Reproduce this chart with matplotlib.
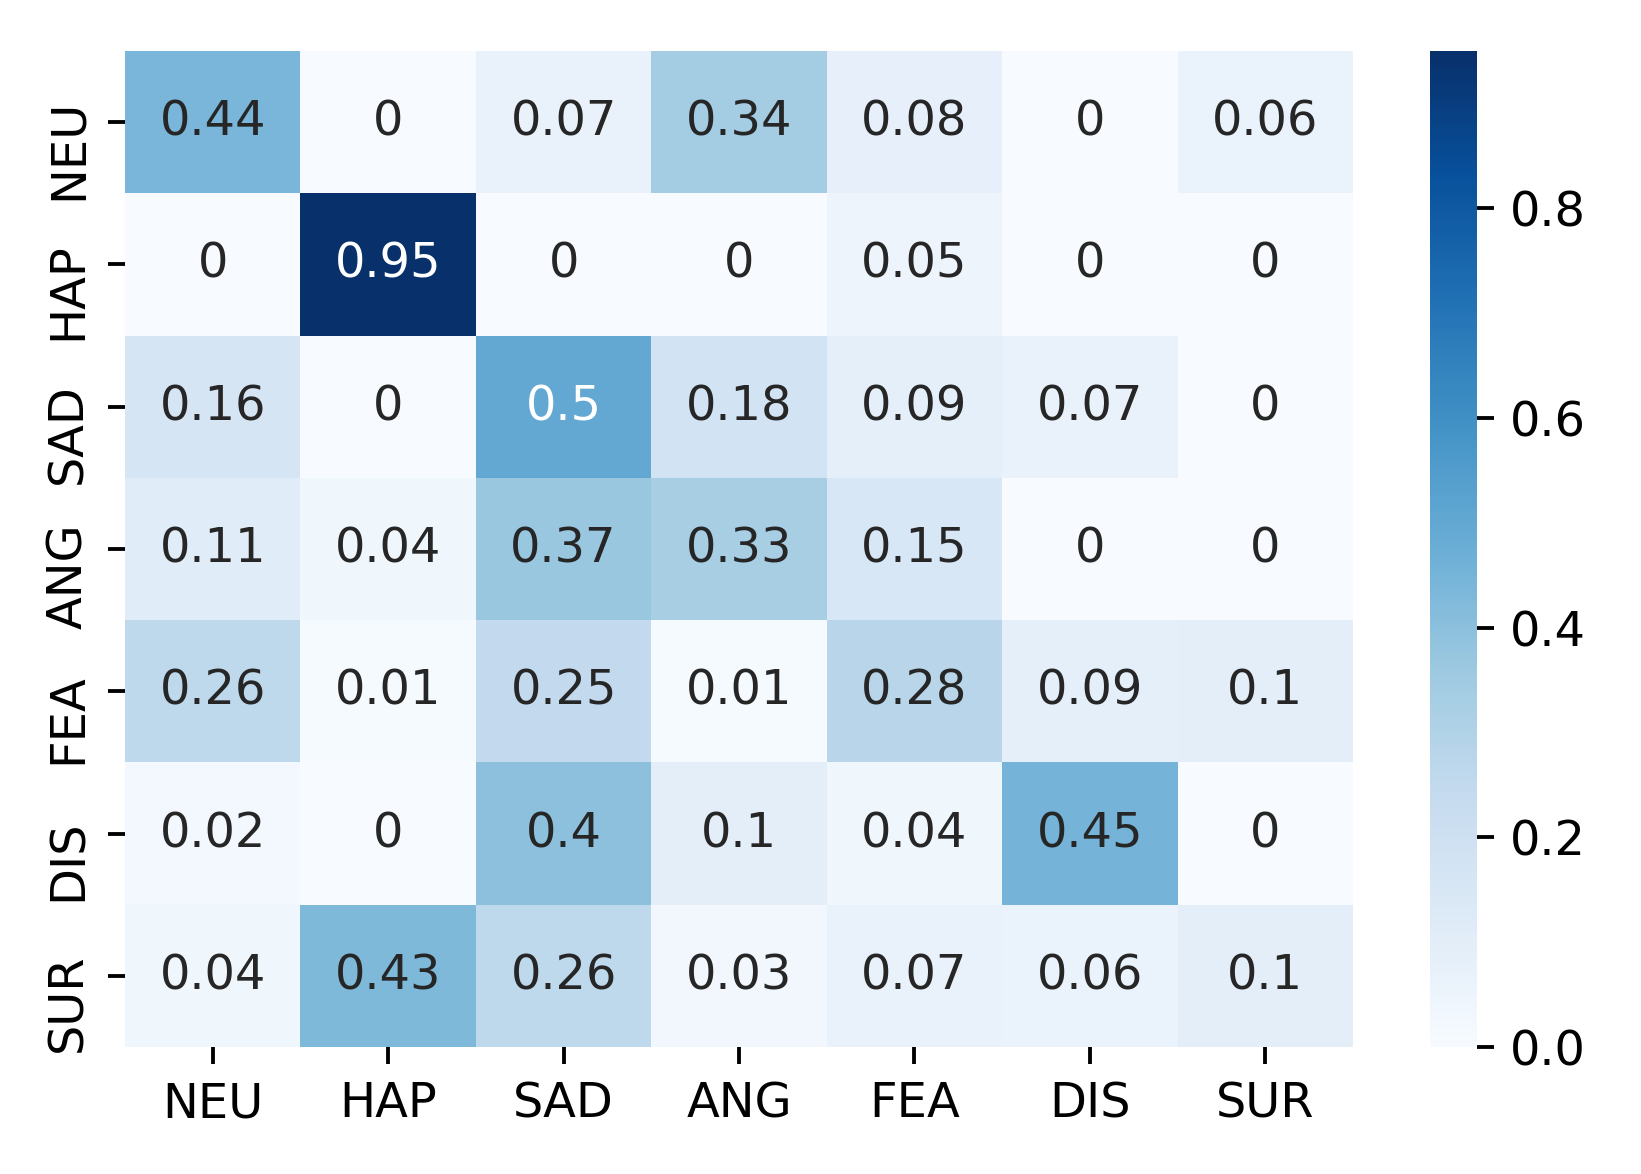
import numpy as np
import matplotlib
matplotlib.use('Agg')
import matplotlib.pyplot as plt
import matplotlib.transforms as mtransforms
import seaborn as sns

labels = ['NEU', 'HAP', 'SAD', 'ANG', 'FEA', 'DIS', 'SUR']

row_neu = [0.44, 0, 0.07, 0.34, 0.08, 0, 0.06]
row_hap = [0, 0.95, 0, 0, 0.05, 0, 0]
row_sad = [0.16, 0, 0.5, 0.18, 0.09, 0.07, 0]
row_ang = [0.11, 0.04, 0.37, 0.33, 0.15, 0, 0]
row_fea = [0.26, 0.01, 0.25, 0.01, 0.28, 0.09, 0.1]
row_dis = [0.02, 0, 0.4, 0.1, 0.04, 0.45, 0]
row_sur = [0.04, 0.43, 0.26, 0.03, 0.07, 0.06, 0.1]

cm = np.array([row_neu, row_hap, row_sad, row_ang, row_fea, row_dis, row_sur])

fs = 11.5
fig = plt.figure(figsize=(1641 / 300, 1174 / 300), dpi=300)
ax = fig.add_axes([125 / 1641, 1 - 1047 / 1174, 1228 / 1641, 996 / 1174])
cax = fig.add_axes([1430 / 1641, 1 - 1047 / 1174, 47 / 1641, 996 / 1174])

sns.heatmap(cm, annot=True, cmap='Blues', xticklabels=labels, yticklabels=labels,
            ax=ax, cbar_ax=cax, annot_kws={'fontsize': fs})
ax.set_yticklabels(labels, rotation=90, va='center', fontsize=fs)
ax.set_xticklabels(labels, rotation=0, fontsize=fs)
ax.tick_params(length=4.0, width=0.92, pad=4.0)
cax.tick_params(labelsize=fs, length=4.0, width=0.92, pad=4.0)
cax.set_yticks([0.0, 0.2, 0.4, 0.6, 0.8])

# the row labels sit a bit below their ticks in the original
shift = mtransforms.ScaledTranslation(0, -0.09, fig.dpi_scale_trans)
for t in ax.get_yticklabels():
    t.set_transform(t.get_transform() + shift)

plt.savefig('out.png', dpi=300)
